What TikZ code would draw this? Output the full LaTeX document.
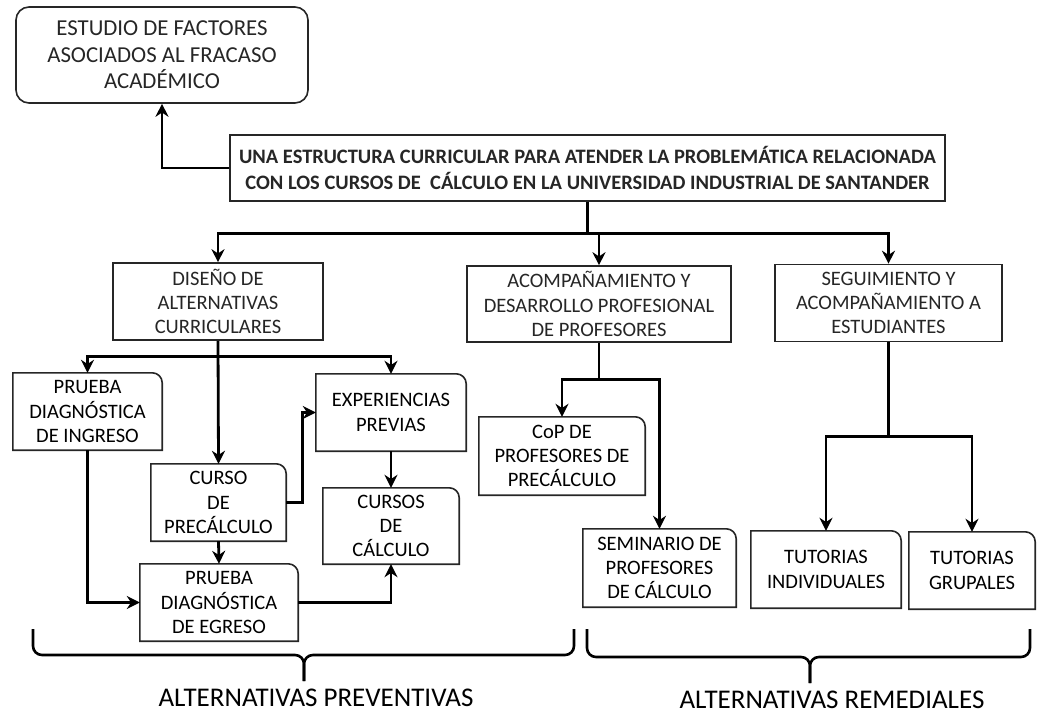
\documentclass[tikz,border=0pt]{standalone}
\usepackage{fontspec}
\setmainfont{Carlito}
\usepackage{tikz}
\usetikzlibrary{arrows.meta,positioning,calc}

% borde con la esquina superior derecha redondeada
\newcommand{\esquina}[1]{%
  \draw[borde] (#1.south west) -- (#1.north west) -- ([xshift=-10pt]#1.north east)
    arc[start angle=90,end angle=0,radius=10pt] -- (#1.south east) -- cycle;}

\begin{document}
\begin{tikzpicture}[x=1pt,y=-1pt,
    borde/.style={line width=1.6pt, black!85},
    caja/.style={draw, borde, align=center, inner sep=2pt,
                 font=\fontsize{20.5}{24.3}\selectfont},
    cajar/.style={align=center, inner sep=2pt,
                  font=\fontsize{20.5}{24.3}\selectfont},
    flecha/.style={line width=2.8pt, -{Stealth[length=13pt,width=13pt]}},
    linea/.style={line width=2.8pt},
    llave/.style={line width=2.6pt, rounded corners=9pt}]
  \useasboundingbox (0,0) rectangle (1037,714);

  \node[caja, rounded corners=13pt, minimum width=292, minimum height=96,
        font=\fontsize{22.8}{26.5}\selectfont] (estudio) at (162,55)
    {ESTUDIO DE FACTORES\\ASOCIADOS AL FRACASO\\ACADÉMICO};
  \node[caja, minimum width=715, minimum height=66,
        font=\fontsize{20.5}{26}\selectfont\bfseries] (main) at (587.5,168)
    {UNA ESTRUCTURA CURRICULAR PARA ATENDER LA PROBLEMÁTICA RELACIONADA\\
     CON LOS CURSOS DE ~CÁLCULO EN LA UNIVERSIDAD INDUSTRIAL DE SANTANDER};

  % tres lineas de trabajo
  \node[caja, minimum width=210, minimum height=77] (diseno) at (218,301.5)
    {DISEÑO DE\\ALTERNATIVAS\\CURRICULARES};
  \node[caja, minimum width=264, minimum height=76] (acomp) at (599,304)
    {ACOMPAÑAMIENTO Y\\DESARROLLO PROFESIONAL\\DE PROFESORES};
  \node[caja, minimum width=227, minimum height=77] (segui) at (888.5,303)
    {SEGUIMIENTO Y\\ACOMPAÑAMIENTO A\\ESTUDIANTES};

  % alternativas curriculares
  \node[cajar, minimum width=149, minimum height=77] (ingreso) at (87.5,411.5)
    {PRUEBA\\DIAGNÓSTICA\\DE INGRESO};
  \node[cajar, minimum width=150, minimum height=77] (exper) at (391,412.5)
    {EXPERIENCIAS\\PREVIAS};
  \node[cajar, minimum width=135, minimum height=77] (curso) at (218.5,502.5)
    {CURSO\\DE\\PRECÁLCULO};
  \node[cajar, minimum width=136, minimum height=76] (cursos) at (391,526)
    {CURSOS\\DE\\CÁLCULO};
  \node[cajar, minimum width=158, minimum height=77] (egreso) at (219,602.5)
    {PRUEBA\\DIAGNÓSTICA\\DE EGRESO};

  % profesores y estudiantes
  \node[cajar, minimum width=166, minimum height=78] (cop) at (562,456)
    {CoP DE\\PROFESORES DE\\PRECÁLCULO};
  \node[cajar, minimum width=153, minimum height=78] (semin) at (659.5,568)
    {SEMINARIO DE\\PROFESORES\\DE CÁLCULO};
  \node[cajar, minimum width=150, minimum height=77] (tind) at (826,569.5)
    {TUTORIAS\\INDIVIDUALES};
  \node[cajar, minimum width=126, minimum height=77] (tgrup) at (972,570.5)
    {TUTORIAS\\GRUPALES};

  \foreach \n in {ingreso,exper,curso,cursos,egreso,cop,semin,tind,tgrup}
    \esquina{\n};

  % conectores
  \draw[flecha] (main.west) -| (estudio.south);
  \draw[linea] (main.south) -- ($(main.south)+(0,32)$) coordinate (mj);
  \draw[flecha] (mj) -| (diseno.north);
  \draw[flecha] (mj) -| (acomp.north);
  \draw[flecha] (mj) -| (segui.north);

  \draw[flecha] (diseno.south) -- (curso.north);
  \coordinate (dj) at ($(diseno.south)+(0,16)$);
  \draw[flecha] (dj) -| (ingreso.north);
  \draw[flecha] (dj) -| (exper.north);
  \draw[flecha] (ingreso.south) |- (egreso.west);
  \draw[flecha] (curso.east) -- ++(16,0) |- (exper.west);
  \draw[flecha] (curso.south) -- (egreso.north);
  \draw[flecha] (exper.south) -- (cursos.north);
  \draw[flecha] (egreso.east) -| (cursos.south);

  \draw[linea] (acomp.south) -- ($(acomp.south)+(0,37)$) coordinate (aj);
  \draw[flecha] (aj) -| (cop.north);
  \draw[flecha] (aj) -| (semin.north);

  \draw[linea] (segui.south) -- ($(segui.south)+(0,94)$) coordinate (sj);
  \draw[flecha] (sj) -| (tind.north);
  \draw[flecha] (sj) -| (tgrup.north);

  % llaves
  \draw[llave] (33,629) -- (33,655) -- (304,655) -- (304,681);
  \draw[llave] (574,629) -- (574,655) -- (304,655) -- (304,681);
  \draw[llave] (587,629) -- (587,657) -- (810,657) -- (810,683);
  \draw[llave] (1030,629) -- (1030,657) -- (810,657) -- (810,683);

  \node[font=\fontsize{27}{31}\selectfont] (prev) at (316,698) {ALTERNATIVAS PREVENTIVAS};
  \node[font=\fontsize{27}{31}\selectfont] (reme) at (832,700) {ALTERNATIVAS REMEDIALES};
\end{tikzpicture}
\end{document}
